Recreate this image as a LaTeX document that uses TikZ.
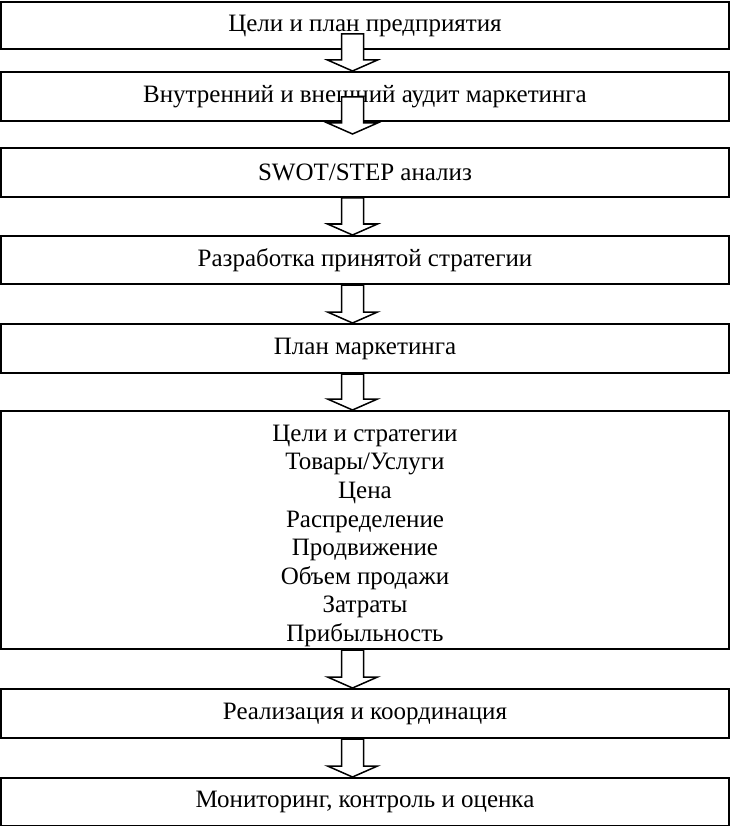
\documentclass[tikz,border=0pt]{standalone}
\usepackage{fontspec}
\setmainfont{Liberation Serif}
\usetikzlibrary{calc}
\tikzset{
  box/.style={draw, line width=2pt, minimum width=728pt, minimum height=#1,
    inner sep=0pt, anchor=north, align=center,
    font=\fontsize{25}{28.6}\selectfont},
  blockarrow/.style={draw, line width=1.5pt, fill=white, line join=miter},
}
\newcommand\blockarr[2]{%
  \draw[blockarrow] let \p1=#1, \p2=#2 in
    (\x1-11pt,\y1) -- (\x1-11pt,\y2+11pt) -- (\x1-25pt,\y2+11pt) -- (\x1,\y2)
    -- (\x1+25pt,\y2+11pt) -- (\x1+11pt,\y2+11pt) -- (\x1+11pt,\y1) -- cycle;}
\begin{document}
\begin{tikzpicture}[x=1pt,y=-1pt]
\useasboundingbox (0,0) rectangle (730,826);
\coordinate (ax) at (352.5,0);
\node[box=47pt]  (b1) at (365,1)   {Цели и план предприятия};
\node[box=49pt]  (b2) at (365,71)  {Внутренний и внешний аудит маркетинга};
\node[box=49pt]  (b3) at (365,147) {SWOT/STEP анализ};
\node[box=48pt]  (b4) at (365,235) {Разработка принятой стратегии};
\node[box=49pt]  (b5) at (365,323) {План маркетинга};
\node[box=238pt] (b6) at (365,410) {\raisebox{-12pt}[0pt][0pt]{\parbox{700pt}{\centering\fontsize{25}{28.6}\selectfont Цели и стратегии\\ Товары/Услуги\\ Цена\\ Распределение\\ Продвижение\\ Объем продажи\\ Затраты\\ Прибыльность}}};
\node[box=49pt]  (b7) at (365,688) {Реализация и координация};
\node[box=48pt]  (b8) at (365,777) {Мониторинг, контроль и оценка};
\blockarr{($(b1.south -| ax)+(0,-16)$)}{(b2.north -| ax)}
\blockarr{($(b2.south -| ax)+(0,-25)$)}{($(b3.north -| ax)+(0,-13)$)}
\blockarr{(b3.south -| ax)}{(b4.north -| ax)}
\blockarr{(b4.south -| ax)}{(b5.north -| ax)}
\blockarr{(b5.south -| ax)}{(b6.north -| ax)}
\blockarr{(b6.south -| ax)}{(b7.north -| ax)}
\blockarr{(b7.south -| ax)}{(b8.north -| ax)}
\end{tikzpicture}
\end{document}
